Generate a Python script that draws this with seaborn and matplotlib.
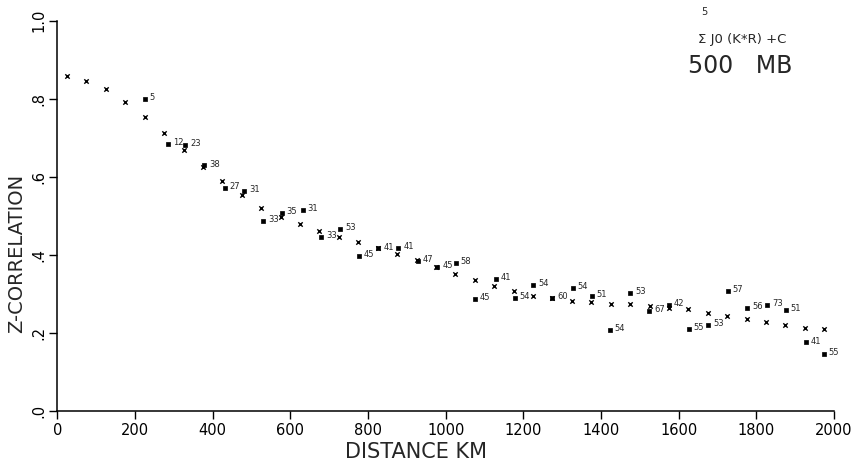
import matplotlib
matplotlib.use("Agg")
import numpy as np
import pandas as pd
import matplotlib.pyplot as plt
import seaborn as sns

# ---------- data ----------
# fitted curve values (x markers), one per 50 km bin
fit_km = [25, 75, 125, 175, 225, 275, 325, 375, 425, 475,
          525, 575, 625, 675, 725, 775, 825, 875, 925, 975,
          1025, 1075, 1125, 1175, 1225, 1275, 1325, 1375, 1425, 1475,
          1525, 1575, 1625, 1675, 1725, 1775, 1825, 1875, 1925, 1975]
fit_r = [0.858, 0.846, 0.824, 0.792, 0.754, 0.713, 0.668, 0.626, 0.588, 0.553,
         0.521, 0.497, 0.479, 0.462, 0.445, 0.433, 0.418, 0.403, 0.386, 0.368,
         0.350, 0.335, 0.320, 0.308, 0.294, 0.288, 0.282, 0.278, 0.274, 0.273,
         0.268, 0.264, 0.260, 0.251, 0.244, 0.235, 0.227, 0.220, 0.213, 0.210]

# observed correlations (squares) with number of pairs
obs_km = [225, 285, 330, 378, 431, 481, 530, 578, 632, 679,
          728, 777, 827, 878, 928, 979, 1026, 1076, 1129, 1178,
          1226, 1275, 1327, 1376, 1422, 1475, 1524, 1574, 1626, 1676,
          1727, 1777, 1828, 1876, 1927, 1974]
obs_r = [0.799, 0.684, 0.682, 0.629, 0.571, 0.564, 0.487, 0.508, 0.515, 0.445,
         0.466, 0.397, 0.416, 0.418, 0.384, 0.369, 0.379, 0.286, 0.337, 0.289,
         0.322, 0.290, 0.315, 0.295, 0.207, 0.301, 0.256, 0.272, 0.209, 0.220,
         0.308, 0.263, 0.272, 0.258, 0.175, 0.145]
obs_n = [5, 12, 23, 38, 27, 31, 33, 35, 31, 33,
         53, 45, 41, 41, 47, 45, 58, 45, 41, 54,
         54, 60, 54, 51, 54, 53, 67, 42, 55, 53,
         57, 56, 73, 51, 41, 55]

x_ticks = [0, 200, 400, 600, 800, 1000, 1200, 1400, 1600, 1800, 2000]
y_ticks = [0.0, 0.2, 0.4, 0.6, 0.8, 1.0]
y_tick_labels = [".0", ".2", ".4", ".6", ".8", "1.0"]

fit_df = pd.DataFrame({"km": fit_km, "r": fit_r})
obs_df = pd.DataFrame({"km": obs_km, "r": obs_r, "n": obs_n})

# ---------- plot ----------
sns.set_style("ticks")
plt.rcParams["font.family"] = ["DejaVu Sans"]

W, H = 861, 463
fig = plt.figure(figsize=(W / 100, H / 100), dpi=100)
ax = fig.add_axes([57.3 / W, 1 - 410.7 / H, (834 - 57.3) / W, (410.7 - 20.7) / H])

sns.scatterplot(data=fit_df, x="km", y="r", marker="x", s=10, color="black",
                linewidth=1.0, ax=ax, legend=False)
sns.scatterplot(data=obs_df, x="km", y="r", marker="s", s=7, color="black",
                edgecolor="black", linewidth=0.5, ax=ax, legend=False)

for km, r, n in zip(obs_km, obs_r, obs_n):
    ax.annotate(str(n), (km, r), xytext=(3.5, 1), textcoords="offset points",
                fontsize=6, va="center", ha="left")

ax.set_xlim(0, 2000)
ax.set_ylim(0, 1)
sns.despine(ax=ax)
for sp in ["left", "bottom"]:
    ax.spines[sp].set_color("black")
    ax.spines[sp].set_linewidth(1.1)

ax.set_xticks(x_ticks)
ax.set_yticks(y_ticks)
ax.set_yticklabels(y_tick_labels, rotation=90, va="center")
ax.tick_params(direction="out", length=6, width=1, colors="black", labelsize=10.5)
ax.tick_params(axis="x", pad=3)
ax.tick_params(axis="y", pad=2)
ax.set_xlabel("")
ax.set_ylabel("")

fig.text(416 / W, 1 - 452 / H, "DISTANCE KM", fontsize=15, ha="center", va="center")
fig.text(17 / W, 1 - 253 / H, "Z-CORRELATION", fontsize=14, rotation=90,
         ha="center", va="center")

# formula annotation
fig.text(704 / W, 1 - 12 / H, "5", fontsize=7, ha="center", va="center")
fig.text(698 / W, 1 - 40 / H, "Σ J0 (K*R) +C", fontsize=9.5, ha="left", va="center")
fig.text(688 / W, 1 - 66 / H, "500   MB", fontsize=17, ha="left", va="center")

fig.savefig("out.png", dpi=100)
